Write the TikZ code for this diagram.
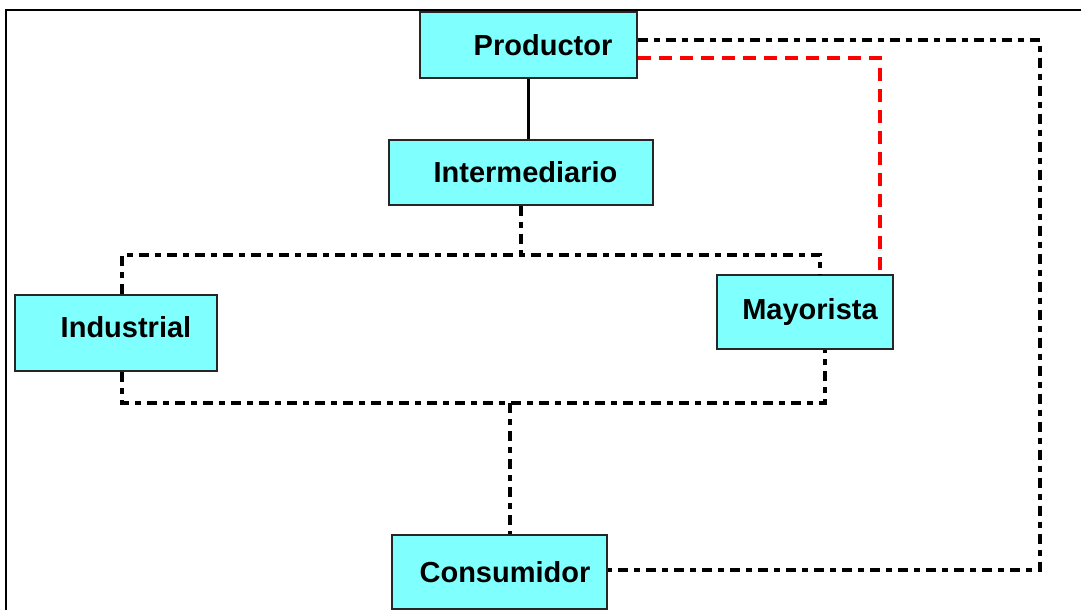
\documentclass[tikz,border=0pt]{standalone}
\usepackage{fontspec}
\setmainfont{Liberation Sans}
\usetikzlibrary{positioning}
\definecolor{boxcyan}{RGB}{128,255,255}
\tikzset{
    agent/.style={rectangle, draw=black!85, line width=1.5pt, fill=boxcyan, font=\fontsize{29}{34}\selectfont\bfseries, text centered},
    pushright/.style={execute at begin node={\hspace*{#1}}},
    chainline/.style={line width=3.5pt, dash pattern=on 10pt off 6pt on 6pt off 6pt},
    redline/.style={line width=3.5pt, red, dash pattern=on 13pt off 8pt}
}

\begin{document}
\begin{tikzpicture}[x=1pt, y=-1pt]
        \useasboundingbox (0,0) rectangle (1081,610);
        \draw[line width=2.5pt] (6,610) -- (6,10) -- (1081,10);

        \node[agent, pushright=29pt, minimum width=217pt, minimum height=66pt] (prod) at (528.5,45) {Productor};
        \node[agent, pushright=9pt, minimum width=264pt, minimum height=65pt] (inter) at (521,172.5) {Intermediario};
        \node[agent, pushright=20pt, text depth=12pt, minimum width=202pt, minimum height=76pt] (ind) at (116,333) {Industrial};
        \node[agent, pushright=10pt, minimum width=176pt, minimum height=74pt] (may) at (805,312) {Mayorista};
        \node[agent, pushright=11pt, minimum width=215pt, minimum height=74pt] (cons) at (499.5,572) {Consumidor};

        \coordinate (topL) at (122,255);
        \coordinate (topR) at (820,255);
        \coordinate (botL) at (122,403);
        \coordinate (botR) at (825,403);
        \coordinate (botM) at (510,403);
        \coordinate (outNE) at (1040,40);
        \coordinate (outSE) at (1040,570);
        \coordinate (redNE) at (880,58);

        \draw [line width=3.5pt] (prod.south) -- (prod.south |- inter.north);
        \draw [chainline] (inter.south) -- (inter.south |- topL);
        \draw [chainline] (ind.north -| topL) -- (topL) -- (topR) -- (topR |- may.north);
        \draw [chainline] (ind.south -| botL) -- (botL) -- (botR) -- (botR |- may.south);
        \draw [chainline] (botM) -- (botM |- cons.north);
        \draw [chainline] (prod.east |- outNE) -- (outNE) -- (outSE) -- (cons.east |- outSE);
        \draw [redline] (prod.east |- redNE) -- (redNE) -- (redNE |- may.north);

    \end{tikzpicture}
\end{document}
